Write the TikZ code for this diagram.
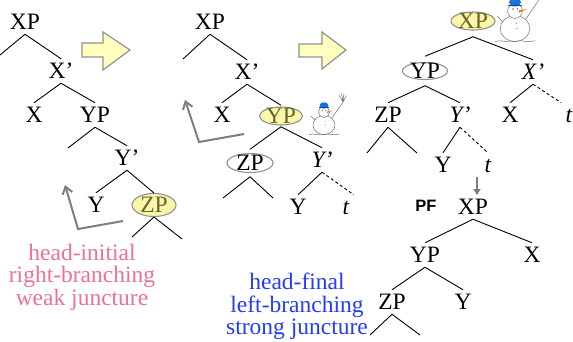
\documentclass[tikz,border=0pt]{standalone}
\usepackage{fontspec}
\setmainfont{Liberation Serif}
\newfontfamily\pfsans{Liberation Sans}
\usetikzlibrary{shapes.geometric,arrows.meta}
\pgfdeclarelayer{background}
\pgfsetlayers{background,main}

\definecolor{hiyellow}{RGB}{250,246,170}
\definecolor{rimgray}{RGB}{145,145,145}
\definecolor{olivetext}{RGB}{105,100,45}
\definecolor{arrowfill}{RGB}{255,255,190}
\definecolor{pointergray}{RGB}{125,125,125}
\definecolor{weakpink}{RGB}{236,112,152}
\definecolor{strongblue}{RGB}{35,60,250}
\definecolor{hatblue}{RGB}{30,110,220}
\definecolor{noseorange}{RGB}{240,120,30}
\definecolor{snowink}{RGB}{110,110,110}

\tikzset{
  treefont/.style={font=\fontsize{23.5}{22.5}\selectfont},
  lbl/.style={treefont, inner sep=0pt, outer sep=4.5pt, text height=15.5pt, text depth=0pt},
  ilbl/.style={lbl, font=\fontsize{23.5}{22.5}\selectfont\itshape},
  hilite/.style={fill=hiyellow, draw=rimgray, line width=1.1pt},
  ring/.style={draw=rimgray, line width=1.1pt},
  branch/.style={line width=0.9pt},
  trace/.style={line width=0.9pt, dash pattern=on 3pt off 2.5pt},
  blockarrow/.style={fill=arrowfill, draw=rimgray, line width=1.2pt, line join=miter},
  pointer/.style={draw=pointergray, line width=2pt, -{Straight Barb[length=7pt,width=10pt]}},
  snowline/.style={draw=snowink, line width=0.5pt},
  snowman/.pic={
    % body and head
    \draw[snowline, fill=white] (0,13) ellipse [x radius=11pt, y radius=9.5pt];
    \draw[snowline, fill=white] (0,0) circle [radius=5.5pt];
    % hat
    \fill[hatblue] (0,-6.5) ellipse [x radius=4.5pt, y radius=3.2pt];
    \draw[hatblue!70!black, line width=0.5pt] (-5,-4.5) -- (5,-4.5);
    % eyes, nose, buttons
    \fill[snowink] (-1.5,-1.5) circle [radius=0.6pt] (1.8,-1.5) circle [radius=0.6pt];
    \fill[noseorange] (3,-0.5) -- (9,-1.5) -- (3,1.2) -- cycle;
    \fill[snowink] (1,9) circle [radius=0.5pt] (1.3,13) circle [radius=0.5pt];
    % arms and broom
    \draw[snowline] (-9,8) -- (-13,4);
    \draw[snowline] (8,6) -- (19,-10);
    \draw[snowline] (19,-10) -- (15,-17) (19,-10) -- (17.5,-18.5)
                    (19,-10) -- (20,-18.5) (19,-10) -- (22.5,-16.5);
    % snow on the ground
    \draw[snowline] (-15,22.5) .. controls (-10,21) and (-5,24) .. (0,22.5)
                    .. controls (5,21) and (10,24) .. (15,22);
  }
}

\begin{document}
\begin{tikzpicture}[x=1pt, y=-1pt]
\useasboundingbox (0,0) rectangle (573,341);

% ---------- first tree: head-initial ----------
\node[lbl] (a_XP) at (25,22) {XP};
\node[lbl] (a_Xb) at (61,71) {X’};
\node[lbl] (a_X)  at (34,115) {X};
\node[lbl] (a_YP) at (95,115) {YP};
\node[lbl] (a_Yb) at (127,158) {Y’};
\node[lbl] (a_Y)  at (96,205) {Y};
\node[lbl, text=olivetext, outer sep=4.25pt] (a_ZP) at (154,205) {ZP};
\coordinate (a_XPl) at (0,55);
\coordinate (a_YPl) at (68,148);
\coordinate (a_ZPl) at (132,237);
\coordinate (a_ZPr) at (182,239);
\begin{pgfonlayer}{background}
  \draw[hilite] (a_ZP.center) ellipse [x radius=22pt, y radius=11.5pt];
\end{pgfonlayer}
\draw[branch] (a_XP.south) -- (a_XPl);
\draw[branch] (a_XP.south) -- (a_Xb.north);
\draw[branch] (a_Xb.south) -- (a_X.north);
\draw[branch] (a_Xb.south) -- (a_YP.north);
\draw[branch] (a_YP.south) -- (a_YPl);
\draw[branch] (a_YP.south) -- (a_Yb.north);
\draw[branch] (a_Yb.south) -- (a_Y.north);
\draw[branch] (a_Yb.south) -- (a_ZP.north);
\draw[branch] (a_ZP.south) -- (a_ZPl);
\draw[branch] (a_ZP.south) -- (a_ZPr);

\coordinate (a_ptrEnd) at (123,221);
\coordinate (a_ptrCorner) at (78,229);
\coordinate (a_ptrTip) at (65,185);
\draw[pointer] (a_ptrEnd) -- (a_ptrCorner) -- (a_ptrTip);

\node[treefont, text=weakpink, align=center, inner sep=0pt] (weak) at (82,277)
  {head-initial\\right-branching\\weak juncture};

% ---------- block arrows ----------
\draw[blockarrow] (82,43) -- (103,43) -- (103,32) -- (130,50) -- (103,70) -- (103,57) -- (82,57) -- cycle;
\draw[blockarrow] (299,44) -- (322,44) -- (322,32) -- (346,50) -- (322,69) -- (322,57) -- (299,57) -- cycle;

% ---------- second tree: YP raised ----------
\node[lbl] (b_XP) at (210,22) {XP};
\node[lbl] (b_Xb) at (247,72) {X’};
\node[lbl] (b_X)  at (222,115) {X};
\node[lbl, text=olivetext, outer sep=3pt] (b_YP) at (281,116) {YP};
\node[lbl, outer sep=6pt] (b_ZP) at (250,163) {ZP};
\node[ilbl] (b_Yb) at (322,160) {Y’};
\node[lbl]  (b_Y)  at (298,207) {Y};
\node[ilbl] (b_t)  at (346,207) {t};
\coordinate (b_XPl) at (183,59);
\coordinate (b_ZPl) at (223,198);
\coordinate (b_ZPr) at (273,198);
\begin{pgfonlayer}{background}
  \draw[hilite] (b_YP.center) ellipse [x radius=21.5pt, y radius=9pt];
  \draw[ring] (b_ZP.center) ellipse [x radius=23pt, y radius=9.5pt];
\end{pgfonlayer}
\draw[branch] (b_XP.south) -- (b_XPl);
\draw[branch] (b_XP.south) -- (b_Xb.north);
\draw[branch] (b_Xb.south) -- (b_X.north);
\draw[branch] (b_Xb.south) -- (b_YP.north);
\draw[branch] (b_YP.south) -- (b_ZP.north);
\draw[branch] (b_YP.south) -- (b_Yb.north);
\draw[branch] (b_ZP.south) -- (b_ZPl);
\draw[branch] (b_ZP.south) -- (b_ZPr);
\draw[branch] (b_Yb.south) -- (b_Y.north);
\draw[trace]  (b_Yb.south) -- (b_t.north east);
\pic[scale=1] at (324,112) {snowman};

\coordinate (b_ptrEnd) at (244,134);
\coordinate (b_ptrCorner) at (199,142);
\coordinate (b_ptrTip) at (185,100);
\draw[pointer] (b_ptrEnd) -- (b_ptrCorner) -- (b_ptrTip);

\node[treefont, text=strongblue, align=center, inner sep=0pt] (strong) at (297,306.5)
  {head-final\\left-branching\\strong juncture};

% ---------- third tree: XP raised ----------
\node[lbl, text=olivetext, outer sep=8pt] (c_XP) at (473,21) {XP};
\node[lbl, outer sep=7pt] (c_YP) at (425,71) {YP};
\node[ilbl] (c_Xb) at (533,72) {X’};
\node[lbl]  (c_ZP) at (388,115) {ZP};
\node[ilbl] (c_Yb) at (460,115) {Y’};
\node[lbl]  (c_X)  at (510,115) {X};
\node[ilbl] (c_t)  at (569,115) {t};
\node[lbl]  (c_Y)  at (443,165) {Y};
\node[ilbl] (c_t2) at (488,165) {t};
\coordinate (c_ZPl) at (367,153);
\coordinate (c_ZPr) at (417,153);
\begin{pgfonlayer}{background}
  \draw[hilite] (c_XP.center) ellipse [x radius=22pt, y radius=9pt];
  \draw[ring] (c_YP.center) ellipse [x radius=22.5pt, y radius=8.5pt];
\end{pgfonlayer}
\draw[branch] (c_XP.south) -- (c_YP.north);
\draw[branch] (c_XP.south) -- (c_Xb.north);
\draw[branch] (c_YP.south) -- (c_ZP.north);
\draw[branch] (c_YP.south) -- (c_Yb.north);
\draw[branch] (c_Xb.south) -- (c_X.north);
\draw[trace]  (c_Xb.south) -- (c_t.north west);
\draw[branch] (c_ZP.south) -- (c_ZPl);
\draw[branch] (c_ZP.south) -- (c_ZPr);
\draw[branch] (c_Yb.south) -- (c_Y.north);
\draw[trace]  (c_Yb.south) -- (c_t2.north);
\pic[scale=1.35] at (515,11) {snowman};

\coordinate (dropTop) at (477,177);
\coordinate (dropTip) at (477,195);
\draw[draw=pointergray, line width=1.5pt, -{Triangle[length=6pt,width=7pt]}] (dropTop) -- (dropTip);

% ---------- fourth tree: PF linearisation ----------
\node[font=\pfsans\bfseries\fontsize{16.5}{16.5}\selectfont, inner sep=0pt] (d_PF) at (426,206) {PF};
\node[lbl] (d_XP) at (473,207) {XP};
\node[lbl] (d_YP) at (425,255) {YP};
\node[lbl] (d_X)  at (532,255) {X};
\node[lbl] (d_ZP) at (392,302) {ZP};
\node[lbl] (d_Y)  at (463,302) {Y};
\coordinate (d_ZPl) at (370,335);
\coordinate (d_ZPr) at (420,335);
\draw[branch] (d_XP.south) -- (d_YP.north);
\draw[branch] (d_XP.south) -- (d_X.north);
\draw[branch] (d_YP.south) -- (d_ZP.north);
\draw[branch] (d_YP.south) -- (d_Y.north);
\draw[branch] (d_ZP.south) -- (d_ZPl);
\draw[branch] (d_ZP.south) -- (d_ZPr);
\end{tikzpicture}
\end{document}
